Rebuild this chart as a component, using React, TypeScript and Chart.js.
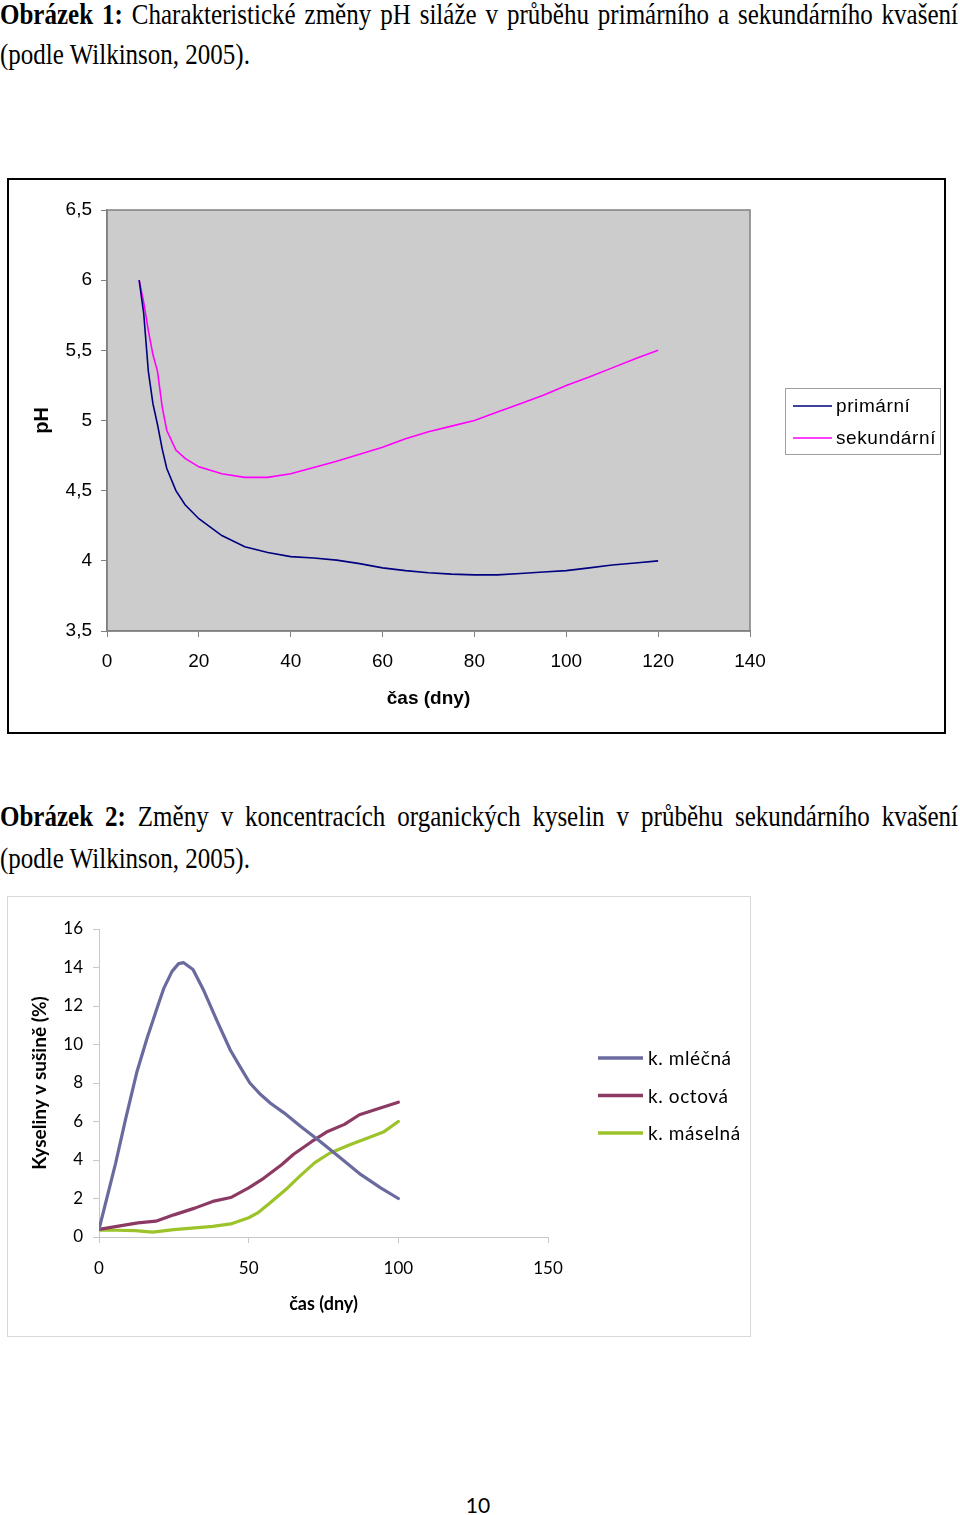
import React, { useEffect, useRef } from "react";
import { Chart, registerables } from "chart.js";

Chart.register(...registerables);

// ---------- Chart 1 data (pH) ----------
const phDays = [7, 8, 9, 10, 11, 12, 13, 15, 17, 20, 25, 30, 35, 40, 45, 50, 55, 60, 65, 70, 75, 80, 85, 90, 95, 100, 105, 110, 115, 120];
const phPrimary = [6.0, 5.76, 5.35, 5.12, 4.97, 4.8, 4.66, 4.5, 4.4, 4.3, 4.18, 4.1, 4.06, 4.03, 4.02, 4.005, 3.98, 3.95, 3.93, 3.915, 3.905, 3.9, 3.9, 3.91, 3.92, 3.93, 3.95, 3.97, 3.985, 4.0];
const phSecondary = [6.0, 5.84, 5.64, 5.47, 5.35, 5.1, 4.93, 4.79, 4.73, 4.67, 4.62, 4.595, 4.595, 4.62, 4.665, 4.71, 4.76, 4.81, 4.87, 4.92, 4.96, 5.0, 5.06, 5.12, 5.18, 5.25, 5.31, 5.375, 5.44, 5.5];
const phSeriesLabels = ["primární", "sekundární"];
const phYTickLabels = ["3,5", "4", "4,5", "5", "5,5", "6", "6,5"];
const phXTickLabels = ["0", "20", "40", "60", "80", "100", "120", "140"];

// ---------- Chart 2 data (organic acids) ----------
const lacticDays = [0, 5.5, 9, 12.7, 16, 19.4, 21.6, 24.4, 26.6, 28.3, 31.4, 35, 39.5, 43.9, 47.3, 50.4, 54, 57.3, 61.8, 67.3, 74, 80.7, 87.4, 94.1, 100];
const lacticValues = [0.4, 3.8, 6.2, 8.6, 10.3, 11.9, 12.9, 13.8, 14.2, 14.25, 13.9, 12.8, 11.2, 9.7, 8.8, 8.0, 7.4, 6.95, 6.45, 5.75, 4.95, 4.1, 3.25, 2.55, 2.0];
const aceticDays = [0, 6, 13, 19, 25, 32, 38, 44, 50, 55, 61, 65, 71, 76, 82, 87, 94, 100];
const aceticValues = [0.4, 0.55, 0.73, 0.82, 1.15, 1.5, 1.85, 2.05, 2.55, 3.05, 3.75, 4.3, 4.95, 5.45, 5.85, 6.35, 6.7, 7.0];
const butyricDays = [0, 6, 12, 18, 25, 32, 38, 44, 50, 53, 57, 63, 67, 72, 77, 84, 90, 95, 100];
const butyricValues = [0.35, 0.35, 0.33, 0.25, 0.38, 0.47, 0.55, 0.68, 1.0, 1.25, 1.75, 2.55, 3.15, 3.85, 4.35, 4.8, 5.15, 5.45, 6.0];
const acidSeriesLabels = ["k. mléčná", "k. octová", "k. máselná"];
const acidYTickLabels = ["0", "2", "4", "6", "8", "10", "12", "14", "16"];
const acidXTickLabels = ["0", "50", "100", "150"];

const toPoints = (xs: number[], ys: number[]) => xs.map((x, i) => ({ x, y: ys[i] }));

const ARIAL = "'Liberation Sans', Arial, sans-serif";
const CALIBRI = "Lato, 'Open Sans', sans-serif";

const plotFrame = {
  id: "plotFrame",
  beforeDraw(chart: any, _args: any, opts: any) {
    if (!opts || !opts.fill) return;
    const { ctx, chartArea } = chart;
    ctx.save();
    ctx.fillStyle = opts.fill;
    ctx.fillRect(chartArea.left, chartArea.top, chartArea.right - chartArea.left, chartArea.bottom - chartArea.top);
    ctx.strokeStyle = opts.stroke;
    ctx.lineWidth = 1.5;
    ctx.strokeRect(chartArea.left, chartArea.top, chartArea.right - chartArea.left, chartArea.bottom - chartArea.top);
    ctx.restore();
  },
};

const boxLegend = {
  id: "boxLegend",
  afterDraw(chart: any, _args: any, opts: any) {
    if (!opts || !opts.show) return;
    const ctx = chart.ctx;
    ctx.save();
    if (opts.box) {
      ctx.strokeStyle = opts.box.color;
      ctx.lineWidth = 1;
      ctx.strokeRect(opts.box.x + 0.5, opts.box.y + 0.5, opts.box.w, opts.box.h);
    }
    ctx.font = opts.font;
    if (opts.letterSpacing) (ctx as any).letterSpacing = opts.letterSpacing;
    ctx.textBaseline = "middle";
    ctx.textAlign = "left";
    chart.data.datasets.forEach((ds: any, i: number) => {
      const y = opts.y + i * opts.rowHeight;
      ctx.strokeStyle = ds.borderColor;
      ctx.lineWidth = opts.lineWidth;
      ctx.beginPath();
      ctx.moveTo(opts.x, y);
      ctx.lineTo(opts.x + opts.lineLength, y);
      ctx.stroke();
      ctx.fillStyle = "#000";
      ctx.fillText(ds.label, opts.x + opts.lineLength + opts.gap, y + 1);
    });
    ctx.restore();
  },
};

function PhChart() {
  const ref = useRef<HTMLCanvasElement>(null);
  useEffect(() => {
    const chart = new Chart(ref.current as HTMLCanvasElement, {
      type: "line",
      data: {
        datasets: [
          { label: phSeriesLabels[0], data: toPoints(phDays, phPrimary), borderColor: "#000080", borderWidth: 1.6, pointRadius: 0, tension: 0, fill: false },
          { label: phSeriesLabels[1], data: toPoints(phDays, phSecondary), borderColor: "#FF00FF", borderWidth: 1.6, pointRadius: 0, tension: 0, fill: false },
        ],
      },
      options: {
        responsive: false,
        animation: false,
        events: [],
        layout: { padding: { left: 0, top: 30, right: 194, bottom: 0 } },
        plugins: {
          legend: { display: false },
          tooltip: { enabled: false },
          plotFrame: { fill: "#CCCCCC", stroke: "#808080" },
          boxLegend: { show: true, x: 784, y: 226, rowHeight: 32, lineLength: 39, gap: 4, lineWidth: 1.6, font: `19px ${ARIAL}`, letterSpacing: "0.6px", box: { x: 776, y: 208, w: 155, h: 66, color: "#A0A0A0" } },
        } as any,
        scales: {
          x: {
            type: "linear",
            min: 0,
            max: 140,
            ticks: { stepSize: 20, color: "#000", font: { family: ARIAL, size: 19 }, padding: 13, maxRotation: 0, autoSkip: false, callback: (_v: any, i: number) => phXTickLabels[i] },
            grid: { drawOnChartArea: false, drawTicks: true, tickLength: 6, color: "#808080" },
            border: { color: "#808080", width: 1.5 },
            title: { display: true, text: "čas (dny)", color: "#000", font: { family: ARIAL, size: 19, weight: "bold" }, padding: { top: 0, bottom: 22 } },
            afterFit: (s: any) => { s.height = 101; s.paddingLeft = 0; s.paddingRight = 0; },
          },
          y: {
            type: "linear",
            min: 3.5,
            max: 6.5,
            ticks: { stepSize: 0.5, color: "#000", font: { family: ARIAL, size: 19 }, padding: 9, callback: (_v: any, i: number) => phYTickLabels[i] },
            grid: { drawOnChartArea: false, drawTicks: true, tickLength: 6, color: "#808080" },
            border: { color: "#808080", width: 1.5 },
            title: { display: true, text: "pH", color: "#000", font: { family: ARIAL, size: 20, weight: "bold" }, padding: { top: 21, bottom: 0 } },
            afterFit: (s: any) => { s.width = 98; s.paddingTop = 0; s.paddingBottom = 0; },
          },
        } as any,
      },
      plugins: [plotFrame, boxLegend],
    } as any);
    return () => chart.destroy();
  }, []);
  return <canvas ref={ref} width={935} height={552} style={{ display: "block", width: 935, height: 552 }} />;
}

function AcidChart() {
  const ref = useRef<HTMLCanvasElement>(null);
  useEffect(() => {
    const common = { borderWidth: 3.2, pointRadius: 0, tension: 0, fill: false, borderJoinStyle: "round", borderCapStyle: "round" };
    const chart = new Chart(ref.current as HTMLCanvasElement, {
      type: "line",
      data: {
        datasets: [
          { label: acidSeriesLabels[0], data: toPoints(lacticDays, lacticValues), borderColor: "#6A6A9F", ...common },
          { label: acidSeriesLabels[1], data: toPoints(aceticDays, aceticValues), borderColor: "#8C3A63", ...common },
          { label: acidSeriesLabels[2], data: toPoints(butyricDays, butyricValues), borderColor: "#9CC42A", ...common },
        ],
      },
      options: {
        responsive: false,
        animation: false,
        events: [],
        layout: { padding: { left: 0, top: 32, right: 202, bottom: 0 } },
        plugins: {
          legend: { display: false },
          tooltip: { enabled: false },
          boxLegend: { show: true, x: 590, y: 161, rowHeight: 37.5, lineLength: 45, gap: 5, lineWidth: 3.4, font: `19px ${CALIBRI}`, letterSpacing: "0.6px" },
        } as any,
        scales: {
          x: {
            type: "linear",
            min: 0,
            max: 150,
            ticks: { stepSize: 50, color: "#000", font: { family: CALIBRI, size: 17 }, padding: 15, maxRotation: 0, autoSkip: false, callback: (_v: any, i: number) => acidXTickLabels[i] },
            grid: { drawOnChartArea: false, drawTicks: true, tickLength: 6, color: "#C8C8C8" },
            border: { color: "#C8C8C8", width: 1 },
            title: { display: true, text: "čas (dny)", color: "#000", font: { family: CALIBRI, size: 18, weight: "bold" }, padding: { top: 0, bottom: 21 } },
            afterFit: (s: any) => { s.height = 99; s.paddingLeft = 0; s.paddingRight = 0; },
          },
          y: {
            type: "linear",
            min: 0,
            max: 16,
            ticks: { stepSize: 2, color: "#000", font: { family: CALIBRI, size: 17 }, padding: 10, callback: (_v: any, i: number) => acidYTickLabels[i] },
            grid: { drawOnChartArea: false, drawTicks: true, tickLength: 6, color: "#C8C8C8" },
            border: { color: "#C8C8C8", width: 1 },
            title: { display: true, text: "Kyseliny v sušině (%)", color: "#000", font: { family: CALIBRI, size: 19, weight: "bold" }, padding: { top: 20, bottom: 0 } },
            afterFit: (s: any) => { s.width = 91; s.paddingTop = 0; s.paddingBottom = 0; },
          },
        } as any,
      },
      plugins: [boxLegend],
    } as any);
    return () => chart.destroy();
  }, []);
  return <canvas ref={ref} width={742} height={439} style={{ display: "block", width: 742, height: 439 }} />;
}

const lineStyle = (top: number, justify: boolean): React.CSSProperties => ({
  position: "absolute",
  left: 0,
  top,
  width: 958,
  fontFamily: "'Liberation Serif', 'Times New Roman', serif",
  fontSize: 25,
  lineHeight: "30px",
  whiteSpace: "nowrap",
  textAlign: justify ? "justify" : "left",
  textAlignLast: justify ? "justify" : "left",
  transform: "scaleY(1.15)",
  transformOrigin: "0 0",
  color: "#000",
} as React.CSSProperties);

export default function App() {
  return (
    <div style={{ position: "absolute", left: 0, top: 0, width: 960, height: 1515, background: "#fff", overflow: "hidden" }}>
      <div style={{ ...lineStyle(-2, true), whiteSpace: "normal" }}>
        <b>Obrázek 1:</b> Charakteristické změny pH siláže v průběhu primárního a sekundárního kvašení
      </div>
      <div style={lineStyle(38, false)}>(podle Wilkinson, 2005).</div>

      <div style={{ position: "absolute", left: 7, top: 178, width: 935, height: 552, border: "2px solid #000" }}>
        <PhChart />
      </div>

      <div style={{ ...lineStyle(800, true), whiteSpace: "normal" }}>
        <b>Obrázek 2:</b> Změny v koncentracích organických kyselin v průběhu sekundárního kvašení
      </div>
      <div style={lineStyle(842, false)}>(podle Wilkinson, 2005).</div>

      <div style={{ position: "absolute", left: 7, top: 896, width: 742, height: 439, border: "1px solid #D9D9D9" }}>
        <AcidChart />
      </div>

      <div style={{ position: "absolute", left: 0, top: 1490, width: 956, textAlign: "center", fontFamily: CALIBRI, fontSize: 21, lineHeight: "30px", color: "#000" }}>
        10
      </div>
    </div>
  );
}
